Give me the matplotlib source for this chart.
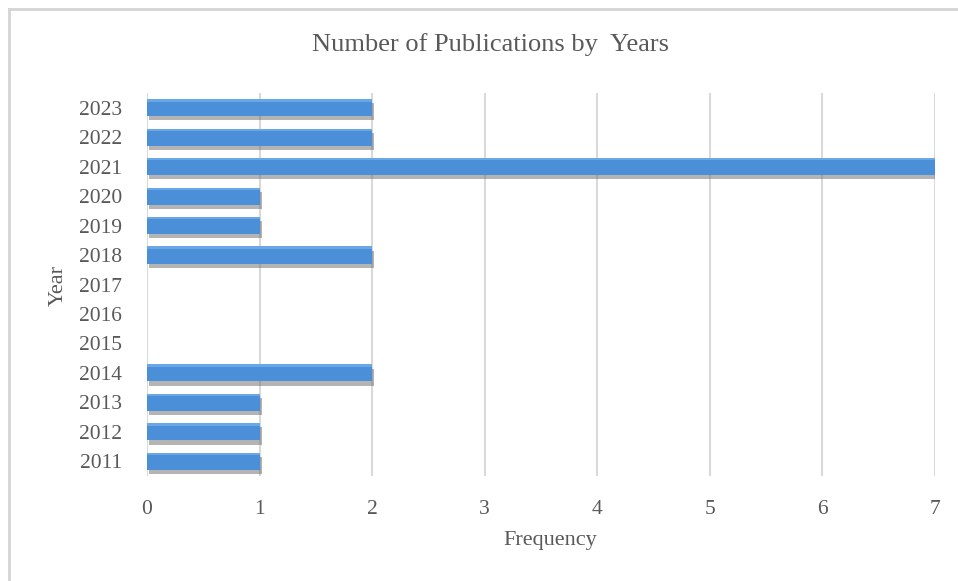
import matplotlib.pyplot as plt
import matplotlib.patheffects as pe
from matplotlib.lines import Line2D
import numpy as np

years = ['2011', '2012', '2013', '2014', '2015', '2016', '2017',
         '2018', '2019', '2020', '2021', '2022', '2023']
counts = [1, 1, 1, 2, 0, 0, 0, 2, 1, 1, 7, 2, 2]
xticks = [0, 1, 2, 3, 4, 5, 6, 7]

plt.rcParams['font.family'] = ['Liberation Serif', 'DejaVu Serif']
txt = '#595959'

fig = plt.figure(figsize=(9.58, 5.81), dpi=100)
ax = fig.add_axes([147/958, 1-476/581, (935-147)/958, (476-93)/581])

pos = np.arange(len(years))
shadow = [pe.SimplePatchShadow(offset=(1.5, -3), shadow_rgbFace='#6a6a6a', alpha=0.5),
          pe.Normal()]
bars = ax.barh(pos, counts, height=0.58, color='#4b8fd9', zorder=3)
for b in bars:
    b.set_path_effects(shadow)
# thin light edge along the top of each bar
ax.barh(pos + 0.25, counts, height=0.08, color='#6aa7e6', zorder=4, linewidth=0)

ax.set_xlim(0, 7)
ax.set_ylim(-0.5, 12.5)
ax.set_xticks(xticks)
ax.set_yticks(pos)
ax.set_yticklabels(years)
ax.grid(axis='x', color='#d9d9d9', linewidth=1.5, zorder=0)
for s in ax.spines.values():
    s.set_visible(False)
ax.tick_params(length=0, labelsize=15.5, colors=txt)
ax.tick_params(axis='x', pad=17)
ax.tick_params(axis='y', pad=18)

fig.text(490/958, 1-45/581, 'Number of Publications by  Years', ha='center', va='center',
         fontsize=19, color=txt)
fig.text(550/958, 1-541/581, 'Frequency', ha='center', va='center', fontsize=16, color=txt)
fig.text(58/958, 1-285/581, 'Year', ha='center', va='center', rotation=90,
         fontsize=16, color=txt)

# chart frame edges visible in the crop
fig.add_artist(Line2D([9/958, 9/958], [0, 1-9/581], color='#d4d4d4', lw=2))
fig.add_artist(Line2D([9/958, 1], [1-9/581, 1-9/581], color='#d4d4d4', lw=2))

fig.savefig('out.png', dpi=100)
